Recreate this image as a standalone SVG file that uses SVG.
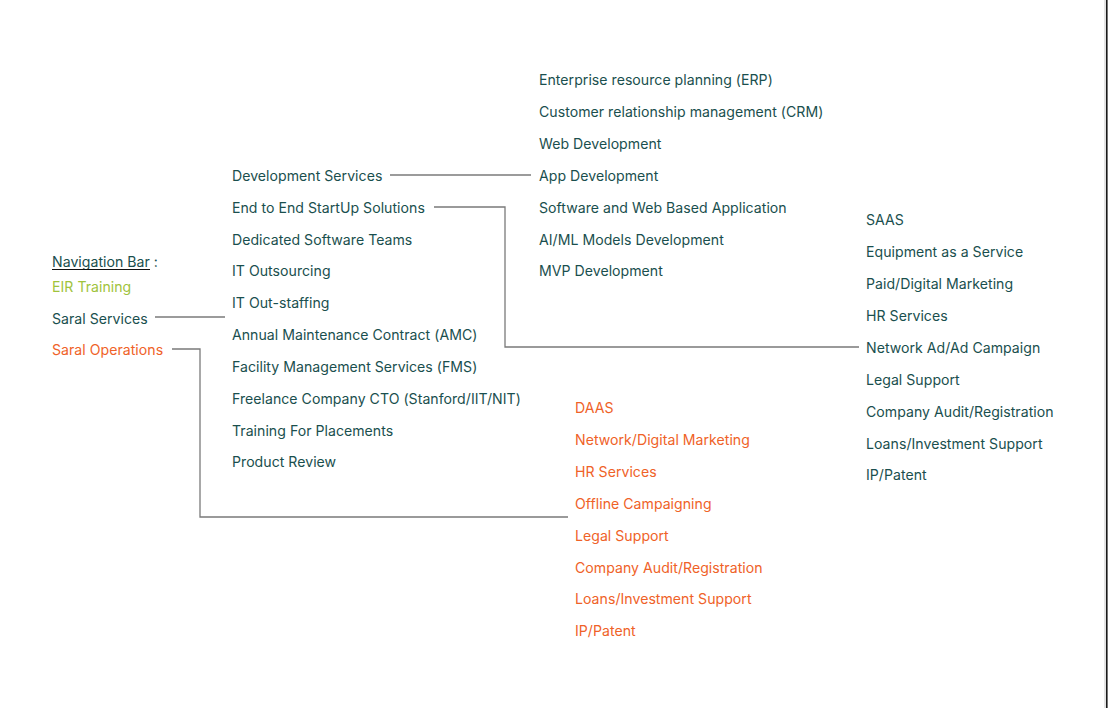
<svg xmlns="http://www.w3.org/2000/svg" width="1108" height="708" viewBox="0 0 1108 708">
<style>
text{font-family:Inter,"Noto Sans","Liberation Sans",sans-serif;font-size:14.1px;letter-spacing:0.03px;fill:#1a4f4e}
.o{fill:#ef6228}
.g{fill:#a0c33c}
.c{fill:none;stroke:#7a7a7a;stroke-width:1.3}
</style>
<rect width="1108" height="708" fill="#fff"/>
<line x1="1105" y1="0" x2="1105" y2="708" stroke="#c8c8c8" stroke-width="1"/>
<line x1="1106.8" y1="0" x2="1106.8" y2="708" stroke="#1a1a1a" stroke-width="1.6"/>
<g id="connectors">
<path class="c" d="M390 175H531"/>
<path class="c" d="M434 207H505V347H859"/>
<path class="c" d="M155 317H225"/>
<path class="c" d="M172 349H200V517H568"/>
</g>
<g id="nav">
<text x="52" y="266.5">Navigation Bar :</text>
<line x1="52" y1="269.5" x2="150" y2="269.5" stroke="#111" stroke-width="1.2"/>
<text x="52" y="291.5" class="g">EIR Training</text>
<text x="52" y="323.5">Saral Services</text>
<text x="52" y="354.5" class="o">Saral Operations</text>
</g>
<g id="services">
<text x="232" y="180.5">Development Services</text>
<text x="232" y="212.5">End to End StartUp Solutions</text>
<text x="232" y="244.5">Dedicated Software Teams</text>
<text x="232" y="275.5">IT Outsourcing</text>
<text x="232" y="307.5">IT Out-staffing</text>
<text x="232" y="339.5">Annual Maintenance Contract (AMC)</text>
<text x="232" y="371.5">Facility Management Services (FMS)</text>
<text x="232" y="403.5">Freelance Company CTO (Stanford/IIT/NIT)</text>
<text x="232" y="435.5">Training For Placements</text>
<text x="232" y="466.5">Product Review</text>
</g>
<g id="development">
<text x="539" y="84.5">Enterprise resource planning (ERP)</text>
<text x="539" y="116.5">Customer relationship management (CRM)</text>
<text x="539" y="148.5">Web Development</text>
<text x="539" y="180.5">App Development</text>
<text x="539" y="212.5">Software and Web Based Application</text>
<text x="539" y="244.5">AI/ML Models Development</text>
<text x="539" y="275.5">MVP Development</text>
</g>
<g id="startup">
<text x="866" y="224.5">SAAS</text>
<text x="866" y="256.5">Equipment as a Service</text>
<text x="866" y="288.5">Paid/Digital Marketing</text>
<text x="866" y="320.5">HR Services</text>
<text x="866" y="352.5">Network Ad/Ad Campaign</text>
<text x="866" y="384.5">Legal Support</text>
<text x="866" y="416.5">Company Audit/Registration</text>
<text x="866" y="448.5">Loans/Investment Support</text>
<text x="866" y="479.5">IP/Patent</text>
</g>
<g id="operations">
<text x="575" y="412.5" class="o">DAAS</text>
<text x="575" y="444.5" class="o">Network/Digital Marketing</text>
<text x="575" y="476.5" class="o">HR Services</text>
<text x="575" y="508.5" class="o">Offline Campaigning</text>
<text x="575" y="540.5" class="o">Legal Support</text>
<text x="575" y="572.5" class="o">Company Audit/Registration</text>
<text x="575" y="603.5" class="o">Loans/Investment Support</text>
<text x="575" y="635.5" class="o">IP/Patent</text>
</g>
</svg>
